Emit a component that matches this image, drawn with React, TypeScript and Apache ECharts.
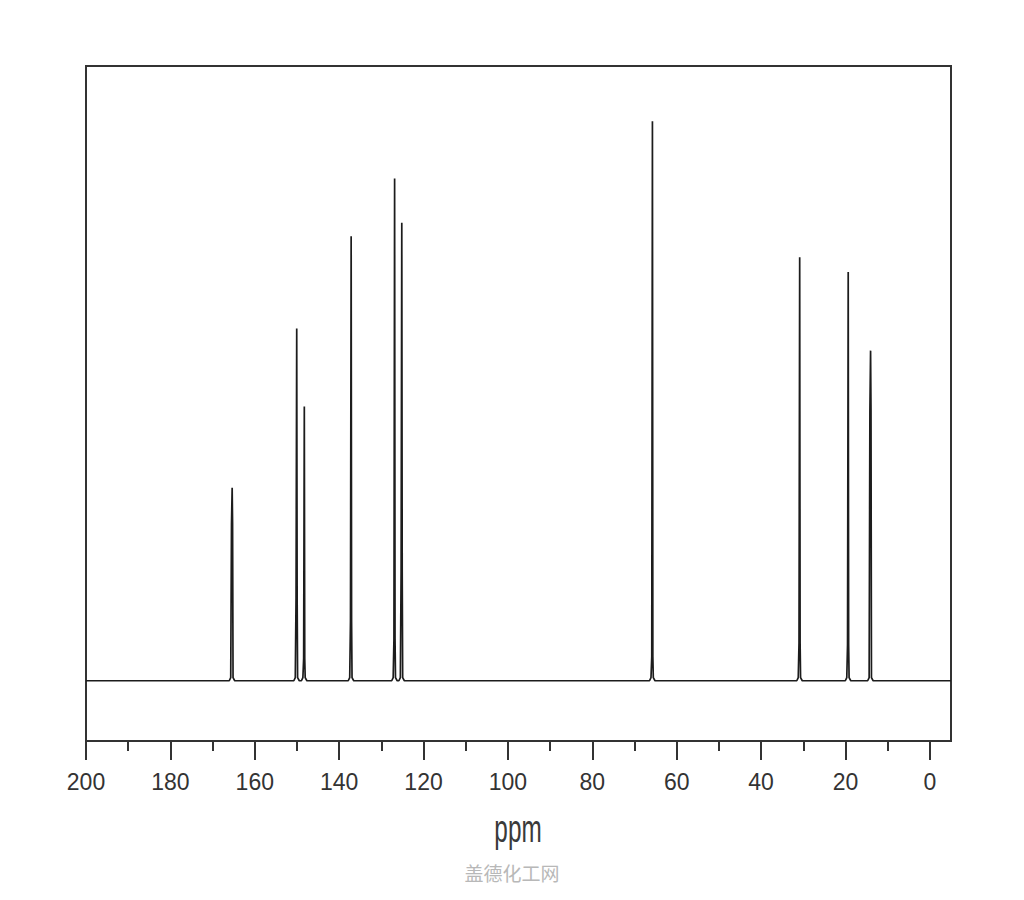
import React, { useEffect, useRef } from "react";
import * as echarts from "echarts";

// Axis range (ppm) and tick values
const xMin = -5;
const xMax = 200;
const majorTicks = [0, 20, 40, 60, 80, 100, 120, 140, 160, 180, 200];
const minorTicks = [10, 30, 50, 70, 90, 110, 130, 150, 170, 190];

// Peaks (ppm, top height, shoulder height of the thicker lower part)
const peakPpm = [165.3, 150.0, 148.2, 137.1, 126.8, 125.1, 65.7, 30.8, 19.3, 14.0];
const peakTop = [31.4, 57.3, 44.6, 72.3, 81.7, 74.5, 91.0, 68.9, 66.5, 53.7];
const peakShoulder = [25.5, 13.5, 3.6, 9.8, 6.8, 17.8, 3.9, 6.2, 5.9, 44.0];

const axisTitle = "ppm";
const watermark = "盖德化工网";

function buildSpectrum(): [number, number][] {
  const pts: [number, number][] = [[xMax, 0]];
  for (let i = 0; i < peakPpm.length; i++) {
    const p = peakPpm[i];
    const t = peakTop[i];
    const s = peakShoulder[i];
    pts.push([p + 0.75, 0]);
    pts.push([p + 0.4, 0.5]);
    pts.push([p + 0.22, s]);
    pts.push([p + 0.06, t]);
    pts.push([p - 0.04, s]);
    pts.push([p - 0.15, 0.5]);
    pts.push([p - 0.55, 0]);
  }
  pts.push([xMin, 0]);
  return pts;
}

export default function App() {
  const ref = useRef<HTMLDivElement>(null);

  useEffect(() => {
    if (!ref.current) return;
    const chart = echarts.init(ref.current, null, { renderer: "svg" });
    const tickColor = "#333";
    const option: any = {
      animation: false,
      backgroundColor: "#ffffff",
      grid: {
        show: true,
        left: 86,
        right: 73,
        top: 66,
        bottom: 159,
        borderColor: "#333",
        borderWidth: 2,
        backgroundColor: "transparent",
      },
      xAxis: [
        {
          type: "value",
          min: xMin,
          max: xMax,
          inverse: true,
          position: "bottom",
          axisLine: { show: false, onZero: false },
          splitLine: { show: false },
          axisTick: {
            show: true,
            inside: false,
            length: 19,
            customValues: majorTicks,
            lineStyle: { color: tickColor, width: 2 },
          },
          axisLabel: {
            show: true,
            customValues: majorTicks,
            margin: 29,
            fontSize: 23,
            color: "#333",
            fontFamily: "Liberation Sans, Arial, sans-serif",
          },
        },
        {
          type: "value",
          min: xMin,
          max: xMax,
          inverse: true,
          position: "bottom",
          axisLine: { show: false, onZero: false },
          splitLine: { show: false },
          axisTick: {
            show: true,
            inside: false,
            length: 10,
            customValues: minorTicks,
            lineStyle: { color: tickColor, width: 2 },
          },
          axisLabel: { show: false },
        },
      ],
      yAxis: {
        type: "value",
        min: -9.8,
        max: 100,
        show: false,
      },
      series: [
        {
          type: "line",
          xAxisIndex: 0,
          data: buildSpectrum(),
          showSymbol: false,
          symbol: "none",
          lineStyle: { color: "#1c1c1c", width: 1.7 },
          clip: true,
        },
      ],
      graphic: [
        {
          type: "text",
          x: 518,
          y: 829,
          scaleX: 0.64,
          style: {
            text: axisTitle,
            fontSize: 38,
            fontFamily: "Liberation Sans, Arial, sans-serif",
            fill: "#3a3a3a",
            align: "center",
            verticalAlign: "middle",
          },
        },
        {
          type: "text",
          x: 512,
          y: 872,
          style: {
            text: watermark,
            fontSize: 19,
            fontFamily: "Noto Sans CJK SC, sans-serif",
            fill: "#b8b8b8",
            align: "center",
            verticalAlign: "middle",
          },
        },
      ],
    };
    chart.setOption(option);
    return () => chart.dispose();
  }, []);

  return (
    <div
      ref={ref}
      style={{ position: "absolute", left: 0, top: 0, width: 1024, height: 900, background: "#fff" }}
    />
  );
}
